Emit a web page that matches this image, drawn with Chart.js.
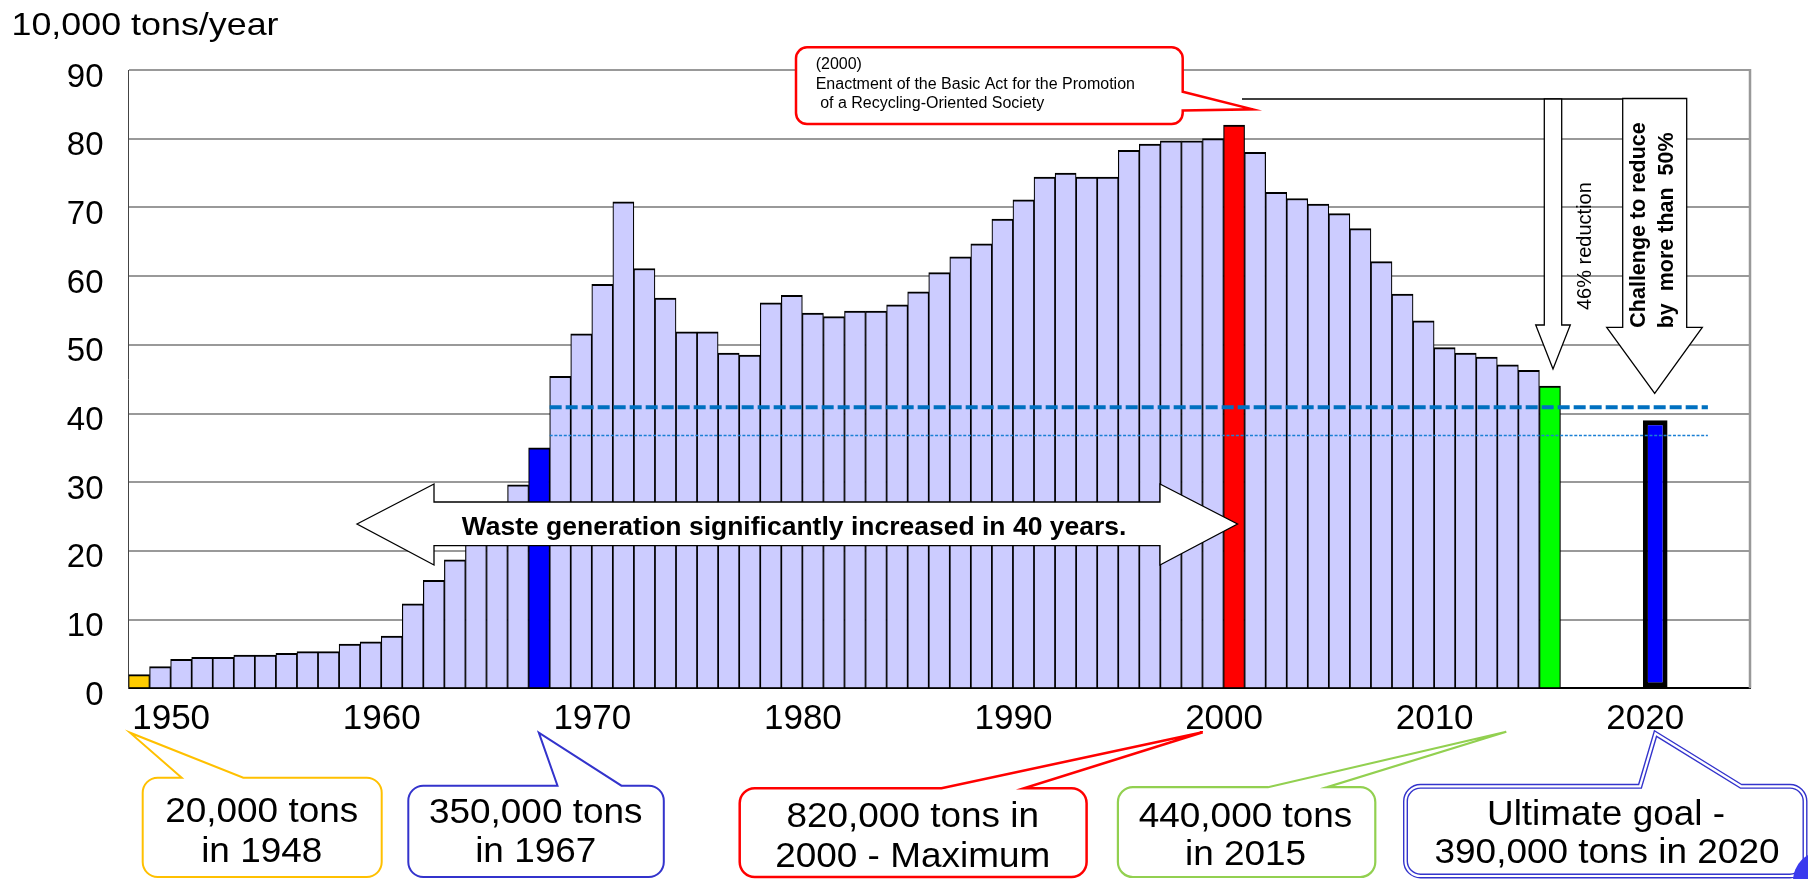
<!DOCTYPE html>
<html>
<head>
<meta charset="utf-8">
<script src="https://cdn.jsdelivr.net/npm/chart.js@4/dist/chart.umd.min.js"></script>
<style>
  html, body { margin: 0; padding: 0; background: #fff; overflow: hidden; }
  #wrap { width: 1808px; height: 879px; position: relative; }
</style>
</head>
<body>
<div id="wrap"><canvas id="chart" width="1808" height="879"></canvas></div>
<script>
// Annual waste generation, in units of 10,000 tons
const years = [
  1948, 1949, 1950, 1951, 1952, 1953, 1954, 1955, 1956, 1957,
  1958, 1959, 1960, 1961, 1962, 1963, 1964, 1965, 1966, 1967,
  1968, 1969, 1970, 1971, 1972, 1973, 1974, 1975, 1976, 1977,
  1978, 1979, 1980, 1981, 1982, 1983, 1984, 1985, 1986, 1987,
  1988, 1989, 1990, 1991, 1992, 1993, 1994, 1995, 1996, 1997,
  1998, 1999, 2000, 2001, 2002, 2003, 2004, 2005, 2006, 2007,
  2008, 2009, 2010, 2011, 2012, 2013, 2014, 2015
];
const waste = [
  2.0, 3.15, 4.23, 4.5, 4.5, 4.85, 4.85, 5.1, 5.35, 5.35,
  6.45, 6.75, 7.6, 12.3, 15.7, 18.7, 23.0, 26.0, 29.6, 35.0,
  45.4, 51.6, 58.8, 70.8, 61.1, 56.8, 51.9, 51.9, 48.8, 48.5,
  56.1, 57.2, 54.6, 54.1, 54.9, 54.9, 55.8, 57.7, 60.5, 62.8,
  64.7, 68.3, 71.1, 74.4, 75.0, 74.4, 74.4, 78.3, 79.2, 79.7,
  79.7, 80.0, 82.0, 78.0, 72.2, 71.3, 70.5, 69.1, 66.9, 62.1,
  57.4, 53.5, 49.6, 48.8, 48.2, 47.1, 46.3, 44.0
];
// Years singled out with their own colour
const highlightYears  = [1948, 1967, 2000, 2015];
const highlightColors = ['#FFCC00', '#0000FF', '#FF0000', '#00FF00'];

// Ultimate goal
const goalYears = [2020];
const goalWaste = [39.0];

// Horizontal reference levels and the span of years they cover
const referenceUpper = 40.9;
const referenceLower = 36.8;
const referenceSpan  = [1967.5, 2022.5];

// Axis labelling
const tickYears = [1950, 1960, 1970, 1980, 1990, 2000, 2010, 2020];
const yMax = 90;
const yStep = 10;

const FONT = '"Liberation Sans", Arial, Helvetica, sans-serif';
Chart.defaults.font.family = FONT;

const barColors = years.map(y => {
  const k = highlightYears.indexOf(y);
  return k >= 0 ? highlightColors[k] : '#CCCCFF';
});

// ---------- drawing helpers for the overlay ----------
function txt(ctx, s, x, y, o) {
  o = o || {};
  ctx.save();
  ctx.font = (o.weight || 'normal') + ' ' + (o.size || 16) + 'px ' + FONT;
  ctx.fillStyle = o.color || '#000';
  ctx.textAlign = o.align || 'left';
  ctx.textBaseline = 'alphabetic';
  ctx.translate(x, y);
  if (o.rot) ctx.rotate(o.rot);
  ctx.scale(o.sx || 1, 1);
  ctx.fillText(s, 0, 0);
  ctx.restore();
}

function poly(ctx, pts, fill, stroke, lw) {
  ctx.save();
  ctx.beginPath();
  ctx.moveTo(pts[0][0], pts[0][1]);
  for (let i = 1; i < pts.length; i++) ctx.lineTo(pts[i][0], pts[i][1]);
  ctx.closePath();
  ctx.lineJoin = 'miter';
  if (fill) { ctx.fillStyle = fill; ctx.fill(); }
  if (stroke) { ctx.strokeStyle = stroke; ctx.lineWidth = lw || 1; ctx.stroke(); }
  ctx.restore();
}

// rounded box with a pointer rising from its top edge
function calloutTop(ctx, b) {
  const { L, T, R, B, r, b1, b2, tip } = b;
  ctx.beginPath();
  ctx.moveTo(L + r, T);
  ctx.lineTo(b1, T);
  ctx.lineTo(tip[0], tip[1]);
  ctx.lineTo(b2, T);
  ctx.lineTo(R - r, T);
  ctx.arcTo(R, T, R, T + r, r);
  ctx.lineTo(R, B - r);
  ctx.arcTo(R, B, R - r, B, r);
  ctx.lineTo(L + r, B);
  ctx.arcTo(L, B, L, B - r, r);
  ctx.lineTo(L, T + r);
  ctx.arcTo(L, T, L + r, T, r);
  ctx.closePath();
}

// rounded box with a pointer leaving its right edge
function calloutRight(ctx, b) {
  const { L, T, R, B, r, p1, p2, tip } = b;
  ctx.beginPath();
  ctx.moveTo(L + r, T);
  ctx.lineTo(R - r, T);
  ctx.arcTo(R, T, R, T + r, r);
  ctx.lineTo(R, p1);
  ctx.lineTo(tip[0], tip[1]);
  ctx.lineTo(R, p2);
  ctx.lineTo(R, B - r);
  ctx.arcTo(R, B, R - r, B, r);
  ctx.lineTo(L + r, B);
  ctx.arcTo(L, B, L, B - r, r);
  ctx.lineTo(L, T + r);
  ctx.arcTo(L, T, L + r, T, r);
  ctx.closePath();
}

const overlay = {
  id: 'overlay',
  beforeDatasetsDraw(chart) {
    const { ctx, chartArea: a } = chart;
    ctx.save();
    ctx.strokeStyle = '#999';
    ctx.lineWidth = 2.5;
    ctx.beginPath();
    ctx.moveTo(a.right, a.top - 1);
    ctx.lineTo(a.right, a.bottom);
    ctx.stroke();
    ctx.restore();
  },
  afterDraw(chart) {
    const ctx = chart.ctx;

    // unit caption
    txt(ctx, '10,000 tons/year', 11.5, 35.3, { size: 32, sx: 1.12 });

    // 40-year growth arrow
    poly(ctx, [[357, 524], [434, 484], [434, 502], [1160, 502], [1160, 484], [1237.5, 524],
               [1160, 565], [1160, 545.7], [434, 545.7], [434, 565]], '#fff', '#000', 1.3);
    txt(ctx, 'Waste generation significantly increased in 40 years.', 794, 535,
        { size: 25, weight: 'bold', align: 'center', sx: 1.06 });

    // 2000 legislation note
    ctx.save();
    calloutRight(ctx, { L: 796, T: 47.3, R: 1182.7, B: 124, r: 11, p1: 91.7, p2: 110.5, tip: [1252.7, 109.3] });
    ctx.fillStyle = '#fff'; ctx.fill();
    ctx.strokeStyle = '#FF0000'; ctx.lineWidth = 2.5; ctx.lineJoin = 'miter'; ctx.stroke();
    ctx.restore();
    txt(ctx, '(2000)', 815.7, 69.3, { size: 16 });
    txt(ctx, 'Enactment of the Basic Act for the Promotion', 815.7, 89.3, { size: 16 });
    txt(ctx, ' of a Recycling-Oriented Society', 815.7, 108.3, { size: 16 });

    // reduction arrows on the right
    ctx.save();
    ctx.strokeStyle = '#000'; ctx.lineWidth = 1.4;
    ctx.beginPath(); ctx.moveTo(1242, 99); ctx.lineTo(1623, 99); ctx.stroke();
    ctx.restore();
    poly(ctx, [[1544.3, 99], [1544.3, 325], [1535.7, 325], [1553, 369], [1570.3, 325],
               [1561.7, 325], [1561.7, 99]], '#fff', '#000', 1.3);
    poly(ctx, [[1622.7, 98.5], [1622.7, 327.3], [1606.7, 327.3], [1654.7, 393.3],
               [1702.3, 327.3], [1686.7, 327.3], [1686.7, 98.5]], '#fff', '#000', 1.3);
    txt(ctx, '46% reduction', 1590.7, 310, { size: 20, rot: -Math.PI / 2 });
    txt(ctx, 'Challenge to reduce', 1645.3, 327.7, { size: 21.5, weight: 'bold', rot: -Math.PI / 2 });
    txt(ctx, 'by  more than  50%', 1672.7, 328.3, { size: 21.5, weight: 'bold', rot: -Math.PI / 2 });

    // callouts under the axis
    const boxes = [
      { L: 142.7, T: 777.7, R: 381.7, B: 877, r: 15, b1: 181.7, b2: 243.3, tip: [130, 732.7],
        color: '#FFC000', lw: 2, cx: 261.7, lines: ['20,000 tons', 'in 1948'], base: [821.7, 861.7] },
      { L: 408.3, T: 785.7, R: 663.8, B: 877, r: 15, b1: 557.5, b2: 621.4, tip: [538.8, 732.7],
        color: '#3333CC', lw: 2, cx: 535.7, lines: ['350,000 tons', 'in 1967'], base: [823.3, 861.7] },
      { L: 739.7, T: 788.3, R: 1086.6, B: 877, r: 15, b1: 941.5, b2: 1024, tip: [1202.7, 732.3],
        color: '#FF0000', lw: 2.5, cx: 912.7, lines: ['820,000 tons in', '2000 - Maximum'], base: [827, 866.7] },
      { L: 1117.9, T: 787.2, R: 1375.3, B: 877, r: 15, b1: 1268, b2: 1327, tip: [1506.3, 731.7],
        color: '#92D050', lw: 2.2, cx: 1245.5, lines: ['440,000 tons', 'in 2015'], base: [826.7, 865] }
    ];
    boxes.forEach(b => {
      ctx.save();
      calloutTop(ctx, b);
      ctx.fillStyle = '#fff'; ctx.fill();
      ctx.strokeStyle = b.color; ctx.lineWidth = b.lw; ctx.lineJoin = 'miter'; ctx.stroke();
      ctx.restore();
      b.lines.forEach((s, i) => txt(ctx, s, b.cx, b.base[i], { size: 35, align: 'center', sx: 1.055 }));
    });

    // goal callout with a double outline
    ctx.save();
    const g = { L: 1405.5, T: 786.3, R: 1805, B: 876, r: 15, b1: 1640, b2: 1741, tip: [1655.5, 733.5] };
    calloutTop(ctx, g);
    ctx.fillStyle = '#fff'; ctx.fill();
    ctx.lineJoin = 'miter';
    ctx.strokeStyle = '#3333CC'; ctx.lineWidth = 5; ctx.stroke();
    ctx.strokeStyle = '#fff'; ctx.lineWidth = 2.2; ctx.stroke();
    ctx.restore();
    txt(ctx, 'Ultimate goal -', 1606, 825, { size: 35, align: 'center', sx: 1.055 });
    txt(ctx, '390,000 tons in 2020', 1607, 863.3, { size: 35, align: 'center', sx: 1.055 });

    // corner badge
    ctx.save();
    ctx.fillStyle = '#3A3AEE';
    ctx.beginPath(); ctx.arc(1823, 881, 30, 0, Math.PI * 2); ctx.fill();
    ctx.restore();
  }
};

new Chart(document.getElementById('chart'), {
  type: 'bar',
  data: {
    datasets: [
      {
        type: 'line',
        data: referenceSpan.map(x => ({ x, y: referenceUpper })),
        borderColor: '#0070C0',
        borderWidth: 4,
        borderDash: [12, 4],
        pointRadius: 0,
        order: 0
      },
      {
        type: 'line',
        data: referenceSpan.map(x => ({ x, y: referenceLower })),
        borderColor: '#1A7FD4',
        borderWidth: 1.4,
        borderDash: [3, 1.7],
        pointRadius: 0,
        order: 0
      },
      {
        data: years.map((x, i) => ({ x, y: waste[i] })),
        backgroundColor: barColors,
        borderColor: '#000',
        borderWidth: { top: 2, left: 1.2, right: 1.2, bottom: 0 },
        borderSkipped: 'start',
        grouped: false,
        barPercentage: 1,
        categoryPercentage: 1,
        order: 2
      },
      {
        data: goalYears.map((x, i) => ({ x, y: goalWaste[i] })),
        backgroundColor: '#0000FF',
        borderColor: '#000',
        borderWidth: 5,
        borderSkipped: false,
        grouped: false,
        barPercentage: 1.17,
        categoryPercentage: 1,
        order: 1
      }
    ]
  },
  options: {
    responsive: false,
    animation: false,
    events: [],
    layout: { padding: { left: 0, top: 70, right: 58, bottom: 0 } },
    plugins: { legend: { display: false }, title: { display: false }, tooltip: { enabled: false } },
    scales: {
      x: {
        type: 'linear',
        offset: false,
        min: 1947.5,
        max: 2024.5,
        afterBuildTicks(s) { s.ticks = tickYears.map(v => ({ value: v })); },
        afterFit(s) { s.height = 879 - 688.3; },
        grid: { display: false, drawTicks: false },
        border: { display: true, color: '#000', width: 2 },
        ticks: {
          callback: v => String(v),
          font: { size: 35 },
          color: '#000',
          padding: 10,
          labelOffset: -10,
          maxRotation: 0,
          autoSkip: false
        }
      },
      y: {
        min: 0,
        max: yMax,
        afterFit(s) { s.width = 128.5; },
        grid: { color: '#999', lineWidth: 2, drawTicks: false },
        border: { display: true, color: '#444', width: 1 },
        ticks: {
          stepSize: yStep,
          font: { size: 33 },
          color: '#000',
          padding: 25,
          labelOffset: 7.5
        }
      }
    }
  },
  plugins: [overlay]
});
</script>
</body>
</html>
